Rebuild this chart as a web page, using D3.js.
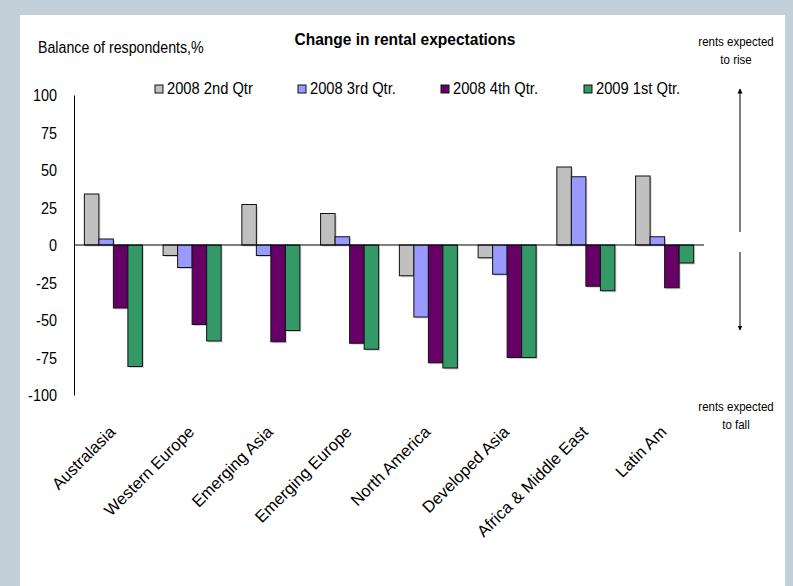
<!DOCTYPE html>
<html>
<head>
<meta charset="utf-8">
<script src="https://cdn.jsdelivr.net/npm/d3@7"></script>
<style>
  html, body { margin: 0; padding: 0; background: #c3cfd9; }
  svg { display: block; }
  text { font-family: "Liberation Sans", Arial, sans-serif; fill: #000; }
</style>
</head>
<body>
<svg id="chart" width="793" height="586"></svg>
<script>
const categories = ["Australasia", "Western Europe", "Emerging Asia", "Emerging Europe",
  "North America", "Developed Asia", "Africa & Middle East", "Latin Am"];
const seriesNames = ["2008 2nd Qtr", "2008 3rd Qtr.", "2008 4th Qtr.", "2009 1st Qtr."];
const q2_2008 = [34, -7, 27, 21, -20.5, -8.5, 52, 46];
const q3_2008 = [4, -15, -7, 5.5, -48, -19.5, 45.5, 5.5];
const q4_2008 = [-42, -53, -64.5, -65.5, -78.5, -75, -27.5, -28.5];
const q1_2009 = [-81, -64, -57, -69.5, -82, -75, -30.5, -12];
const seriesValues = [q2_2008, q3_2008, q4_2008, q1_2009];
const seriesColors = ["#c0c0c0", "#9999ff", "#660066", "#339966"];
const yTicks = [100, 75, 50, 25, 0, -25, -50, -75, -100];

const svg = d3.select("#chart");
svg.append("rect").attr("x", 20).attr("y", 15).attr("width", 765).attr("height", 571).attr("fill", "#ffffff");

// horizontally condensed text helper
function addText(parent, x, y, str, size, sx, anchor, weight) {
  return parent.append("text")
    .attr("transform", `translate(${x},${y}) scale(${sx},1)`)
    .attr("text-anchor", anchor || "start")
    .attr("font-size", size)
    .attr("font-weight", weight || "normal")
    .text(str);
}

const x0 = d3.scaleBand().domain(categories).range([74, 704]).paddingInner(0.263).paddingOuter(0.1315);
const x1 = d3.scaleBand().domain(seriesNames).range([0, x0.bandwidth()]).padding(0);
const y = d3.scaleLinear().domain([-100, 100]).range([395, 95]);

// Y axis
const yAxis = d3.axisLeft(y).tickValues(yTicks).tickSize(0).tickFormat(d => String(d));
const gy = svg.append("g").attr("transform", "translate(74,0)").call(yAxis);
gy.select(".domain").attr("stroke", "#000").attr("stroke-width", 1);
gy.selectAll(".tick text")
  .attr("x", 0).attr("dy", "0.35em")
  .attr("transform", "translate(-17,0) scale(0.86,1)")
  .attr("font-size", 16.8)
  .attr("font-family", "Liberation Sans, Arial, sans-serif")
  .attr("fill", "#000");

// bars
const groups = svg.append("g").selectAll("g").data(categories).join("g")
  .attr("transform", d => `translate(${x0(d)},0)`);
seriesNames.forEach((s, si) => {
  groups.append("rect")
    .attr("x", () => x1(s) + 1.5)
    .attr("y", (d, i) => Math.min(y(seriesValues[si][i]), y(0)) + 1.5)
    .attr("width", x1.bandwidth())
    .attr("height", (d, i) => Math.abs(y(seriesValues[si][i]) - y(0)))
    .attr("fill", "#999").attr("opacity", 0.45);
  groups.append("rect")
    .attr("x", () => x1(s))
    .attr("y", (d, i) => Math.min(y(seriesValues[si][i]), y(0)))
    .attr("width", x1.bandwidth())
    .attr("height", (d, i) => Math.abs(y(seriesValues[si][i]) - y(0)))
    .attr("fill", seriesColors[si])
    .attr("stroke", "#111").attr("stroke-width", 1);
});

// zero line
svg.append("line").attr("x1", 74).attr("x2", 704).attr("y1", y(0)).attr("y2", y(0))
  .attr("stroke", "#000").attr("stroke-width", 1);

// X labels rotated
svg.append("g").selectAll("text").data(categories).join("text")
  .attr("transform", d => `translate(${x0(d) + x0.bandwidth() / 2 + 3},${y(-100) + 38}) rotate(-45)`)
  .attr("text-anchor", "end")
  .attr("font-size", 16.5)
  .text(d => d);

// Title
addText(svg, 405, 45, "Change in rental expectations", 16.2, 0.96, "middle", "bold");
addText(svg, 38, 53, "Balance of respondents,%", 15.6, 0.91);

// Legend
const legend = svg.append("g").selectAll("g").data(seriesNames).join("g")
  .attr("transform", (d, i) => `translate(${155 + i * 143},0)`);
legend.append("rect").attr("x", 0).attr("y", 85).attr("width", 8).attr("height", 8)
  .attr("fill", (d, i) => seriesColors[i]).attr("stroke", "#111").attr("stroke-width", 1);
legend.each(function (d) { addText(d3.select(this), 12, 94, d, 16, 0.92); });

// Right annotations
const ann = svg.append("g");
addText(ann, 736, 46, "rents expected", 12.5, 0.92, "middle");
addText(ann, 736, 64, "to rise", 12.5, 0.92, "middle");
addText(ann, 736, 411, "rents expected", 12.5, 0.92, "middle");
addText(ann, 736, 429, "to fall", 12.5, 0.92, "middle");

const defs = svg.append("defs");
defs.append("marker").attr("id", "ah").attr("viewBox", "0 0 10 10").attr("refX", 9).attr("refY", 5)
  .attr("markerWidth", 5).attr("markerHeight", 6).attr("orient", "auto-start-reverse")
  .attr("markerUnits", "userSpaceOnUse")
  .append("path").attr("d", "M0,0 L10,5 L0,10 z").attr("fill", "#000");
ann.append("line").attr("x1", 740).attr("x2", 740).attr("y1", 232).attr("y2", 89)
  .attr("stroke", "#000").attr("stroke-width", 1).attr("marker-end", "url(#ah)");
ann.append("line").attr("x1", 740).attr("x2", 740).attr("y1", 252).attr("y2", 330)
  .attr("stroke", "#000").attr("stroke-width", 1).attr("marker-end", "url(#ah)");
</script>
</body>
</html>
